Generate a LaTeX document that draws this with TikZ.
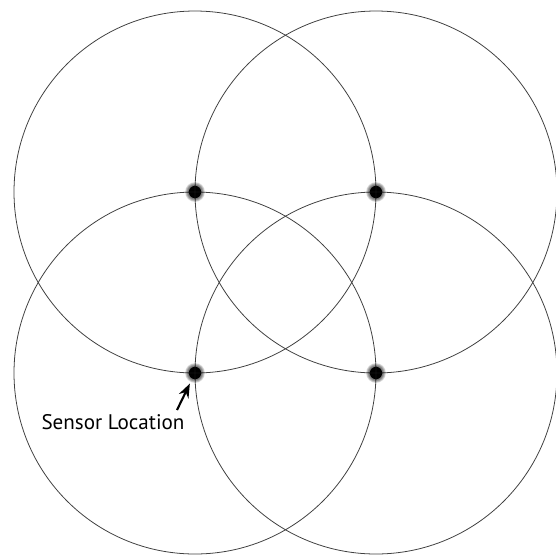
\documentclass[tikz,border=0pt]{standalone}
\usepackage{fontspec}
\setmainfont{PT Sans}
\usetikzlibrary{arrows.meta}

\begin{document}
\begin{tikzpicture}[x=0.02cm, y=-0.02cm, font=\fontsize{12}{14}\selectfont, >={Stealth[length=8pt, width=6pt]},
  sensor/.style={circle, fill=black, inner sep=0pt, minimum size=7pt},
  ring/.style={draw=black!75, line width=0.45pt},
  lbl/.style={inner sep=1pt}]
  \useasboundingbox (0,0) rectangle (556,556);
  \clip (0,0) rectangle (556,556);
  % sensor positions
  \node[sensor] (nw) at (195,192) {};
  \node[sensor] (ne) at (376,192) {};
  \node[sensor] (sw) at (195,373) {};
  \node[sensor] (se) at (376,373) {};
  % coverage circles
  \foreach \s in {nw,ne,sw,se}
    \draw[ring] (\s.center) circle (181);
  % soft halo round each dot
  \foreach \s in {nw,ne,sw,se}
    \foreach \r in {10,9.5,...,6}
      \fill[black, opacity=0.1] (\s.center) circle (\r);
  \node[lbl] (label) at (113,422) {Sensor Location};
  \coordinate (tail) at (177,410);
  \draw[->, line width=1.2pt, shorten >=3pt] (tail) -- (sw);
\end{tikzpicture}
\end{document}
